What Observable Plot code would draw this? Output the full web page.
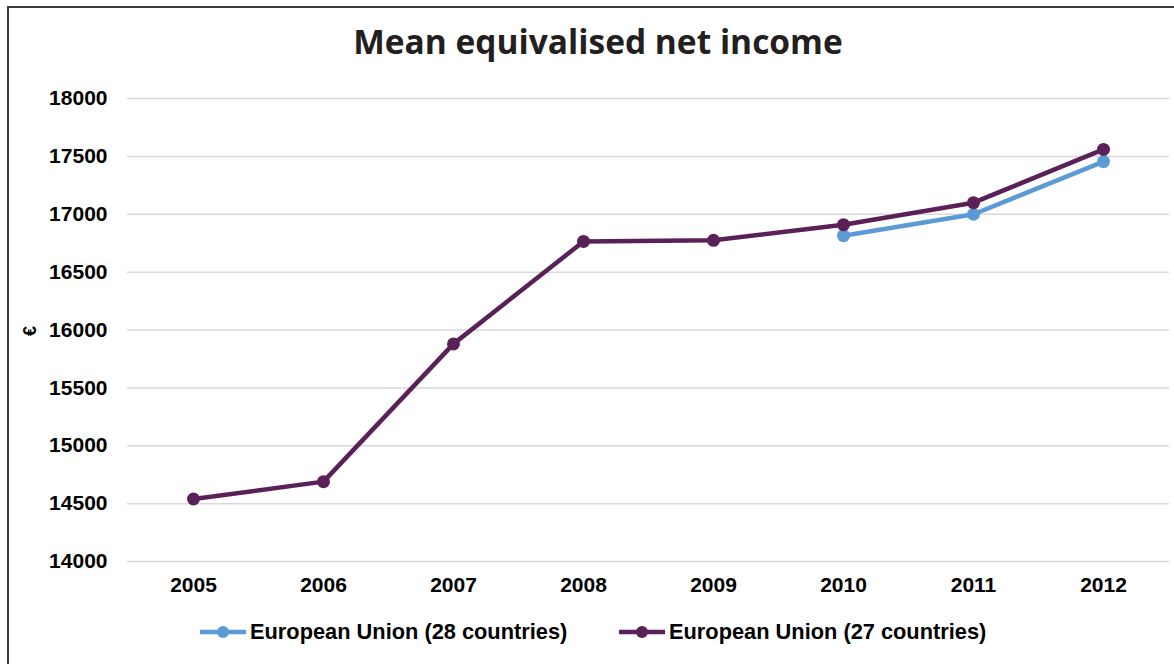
<!DOCTYPE html>
<html>
<head>
<meta charset="utf-8">
<script src="https://cdn.jsdelivr.net/npm/d3@7"></script>
<script src="https://cdn.jsdelivr.net/npm/@observablehq/plot@0.6"></script>
<style>
  html, body { margin: 0; padding: 0; background: #fff; overflow: hidden; }
  body { width: 1174px; height: 664px; position: relative; font-family: "Liberation Sans", Arial, sans-serif; }
  #frame { position: absolute; left: 7px; top: 6px; width: 1180px; height: 680px; border: 2px solid #3c3c3c; box-sizing: border-box; }
  #title { position: absolute; left: 12px; width: 1172px; top: 18px; text-align: center; font-family: "Open Sans", sans-serif; font-weight: 700; font-size: 33.5px; color: #231f20; letter-spacing: 0; }
  #chart { position: absolute; left: 0; top: 0; }
  #euro { position: absolute; left: 20px; top: 321px; width: 20px; height: 20px; transform: rotate(-90deg); font-weight: 700; font-size: 18px; text-align: center; line-height: 20px; color: #000; }
  #legend { position: absolute; top: 619px; left: 0; width: 1174px; height: 26px; }
  .item { position: absolute; top: 0; display: flex; align-items: center; font-weight: 700; font-size: 21.8px; color: #000; white-space: nowrap; }
  .item svg { margin-right: 4px; }
</style>
</head>
<body>
<div id="frame"></div>
<div id="title">Mean equivalised net income</div>
<div id="chart"></div>
<div id="euro">€</div>
<div id="legend"></div>
<script>
const years = ["2005", "2006", "2007", "2008", "2009", "2010", "2011", "2012"];
const eu28 = [null, null, null, null, null, 16815, 17000, 17455];
const eu27 = [14540, 14690, 15880, 16765, 16775, 16910, 17100, 17560];
const yTicks = [14000, 14500, 15000, 15500, 16000, 16500, 17000, 17500, 18000];
const seriesNames = ["European Union (28 countries)", "European Union (27 countries)"];
const seriesColors = ["#5b9bd5", "#5a2159"];

const rows28 = years.map((y, i) => ({year: y, value: eu28[i]})).filter(d => d.value != null);
const rows27 = years.map((y, i) => ({year: y, value: eu27[i]}));

const plot = Plot.plot({
  width: 1174,
  height: 600,
  marginLeft: 127,
  marginRight: 5,
  marginTop: 98,
  marginBottom: 39,
  style: {fontFamily: "'Liberation Sans', Arial, sans-serif", fontWeight: "700", fontSize: "21px", color: "#000", background: "transparent", overflow: "visible"},
  x: {type: "point", domain: years, padding: 0.5, label: null},
  y: {domain: [14000, 18000], label: null},
  marks: [
    Plot.ruleY(yTicks, {stroke: "#d9d9d9", strokeWidth: 1.5}),
    Plot.axisY({ticks: yTicks, tickSize: 0, tickPadding: 20, tickFormat: d => String(d), label: null, fontSize: 21}),
    Plot.axisX({tickSize: 0, tickPadding: 16, label: null, fontSize: 21}),
    Plot.line(rows28, {x: "year", y: "value", stroke: seriesColors[0], strokeWidth: 4.5}),
    Plot.dot(rows28, {x: "year", y: "value", fill: seriesColors[0], r: 6.5}),
    Plot.line(rows27, {x: "year", y: "value", stroke: seriesColors[1], strokeWidth: 4.5}),
    Plot.dot(rows27, {x: "year", y: "value", fill: seriesColors[1], r: 6.5})
  ]
});
document.getElementById("chart").appendChild(plot);

const legend = document.getElementById("legend");
const lefts = [200, 619];
seriesNames.forEach((name, i) => {
  const div = document.createElement("div");
  div.className = "item";
  div.style.left = lefts[i] + "px";
  div.innerHTML = `<svg width="46" height="14"><line x1="0" y1="7" x2="46" y2="7" stroke="${seriesColors[i]}" stroke-width="4.5"/><circle cx="23" cy="7" r="6" fill="${seriesColors[i]}"/></svg><span>${name}</span>`;
  legend.appendChild(div);
});
</script>
</body>
</html>
